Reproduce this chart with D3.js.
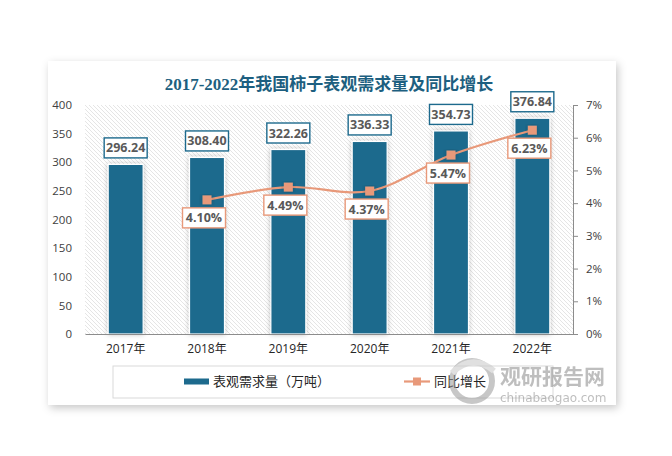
<!DOCTYPE html>
<html><head><meta charset="utf-8">
<script src="https://cdn.jsdelivr.net/npm/d3@7"></script>
<style>body{margin:0;background:#fff;}svg{display:block;}</style>
</head><body>
<svg id="c" width="672" height="456"></svg>
<script>
const years = ["2017年","2018年","2019年","2020年","2021年","2022年"];
const demand = [296.24, 308.40, 322.26, 336.33, 354.73, 376.84];
const growthYears = ["2018年","2019年","2020年","2021年","2022年"];
const growth = [4.10, 4.49, 4.37, 5.47, 6.23];
const leftTicks = [0,50,100,150,200,250,300,350,400];
const rightTicks = [0,1,2,3,4,5,6,7];
const title = "2017-2022年我国柿子表观需求量及同比增长";
const barName = "表观需求量（万吨）";
const lineName = "同比增长";

const svg = d3.select("#c");
const defs = svg.append("defs");
const sh = defs.append("filter").attr("id","cardShadow").attr("x","-10%").attr("y","-10%").attr("width","120%").attr("height","125%");
sh.append("feDropShadow").attr("dx",2).attr("dy",3).attr("stdDeviation",4).attr("flood-color","#000").attr("flood-opacity",0.22);
const bs = defs.append("filter").attr("id","barShadow").attr("x","-30%").attr("y","-10%").attr("width","160%").attr("height","120%");
bs.append("feDropShadow").attr("dx",0).attr("dy",0).attr("stdDeviation",2.5).attr("flood-color","#000").attr("flood-opacity",0.25);
const pat = defs.append("pattern").attr("id","hatch").attr("patternUnits","userSpaceOnUse").attr("width",4).attr("height",4);
pat.append("rect").attr("width",4).attr("height",4).attr("fill","#fff");
pat.append("path").attr("d","M-1,-1 L5,5 M3,-1 L5,1 M-1,3 L1,5").attr("stroke","#dedede").attr("stroke-width",0.8);

// card
svg.append("rect").attr("x",48).attr("y",61).attr("width",568).attr("height",344).attr("fill","#fff").attr("filter","url(#cardShadow)");

const x = d3.scaleBand().domain(years).range([85,573]).paddingInner(0.57).paddingOuter(0.285);
const yL = d3.scaleLinear().domain([0,400]).range([334,105]);
const yR = d3.scaleLinear().domain([0,7]).range([334,105]);

// plot background
svg.append("rect").attr("x",85).attr("y",105).attr("width",488).attr("height",229).attr("fill","url(#hatch)");

// title
svg.append("text").attr("x",329).attr("y",90).attr("text-anchor","middle")
  .attr("font-family","'Liberation Serif','Noto Sans CJK SC',serif").attr("font-weight","bold")
  .attr("font-size",17).attr("fill","#1d5f80").text(title);

// bars
svg.append("g").selectAll("rect").data(demand).join("rect")
  .attr("x",(d,i)=>x(years[i])).attr("y",d=>yL(d))
  .attr("width",x.bandwidth()).attr("height",d=>yL(0)-yL(d))
  .attr("fill","#1d6a8d").attr("stroke","#fff").attr("stroke-width",1.2)
  .attr("filter","url(#barShadow)");

// axes
const axisFont = "'Open Sans','DejaVu Sans',sans-serif";
const gL = svg.append("g").attr("transform","translate(85,0)")
  .call(d3.axisLeft(yL).tickValues(leftTicks).tickSize(0).tickPadding(13));
gL.select(".domain").remove();
gL.selectAll("text").attr("font-family",axisFont).attr("font-size",11.5).attr("fill","#404040");

const gR = svg.append("g").attr("transform","translate(573,0)")
  .call(d3.axisRight(yR).tickValues(rightTicks).tickSize(5).tickSizeOuter(0).tickPadding(8).tickFormat(d=>d+"%"));
gR.select(".domain").attr("stroke","#8c8c8c");
gR.selectAll("line").attr("stroke","#8c8c8c");
gR.selectAll("text").attr("font-family",axisFont).attr("font-size",11.5).attr("fill","#404040");

const gB = svg.append("g").attr("transform","translate(0,334)")
  .call(d3.axisBottom(x).tickSize(0).tickPadding(10));
gB.select(".domain").attr("stroke","#8c8c8c").attr("stroke-width",1.2);
gB.selectAll("text").attr("font-family",axisFont+",'Noto Sans CJK SC'").attr("font-size",12).attr("fill","#262626");

// line
const cx = d => x(d)+x.bandwidth()/2;
const lineData = growth.map((v,i)=>({k:growthYears[i],v}));
const line = d3.line().x(d=>cx(d.k)).y(d=>yR(d.v)).curve(d3.curveCatmullRom.alpha(0.5));
svg.append("path").datum(lineData).attr("d",line).attr("fill","none").attr("stroke","#e8997a").attr("stroke-width",2.2);
svg.append("g").selectAll("rect").data(lineData).join("rect")
  .attr("x",d=>cx(d.k)-4.5).attr("y",d=>yR(d.v)-4.5).attr("width",9).attr("height",9)
  .attr("fill","#e8997a").attr("filter","url(#barShadow)");

// value labels
const labFont = "'Open Sans','DejaVu Sans',sans-serif";
function box(g, cxv, cyv, txt, stroke){
  g.append("rect").attr("x",cxv-21.5).attr("y",cyv-10).attr("width",43).attr("height",20)
    .attr("fill","#fff").attr("stroke",stroke).attr("stroke-width",1.4);
  g.append("text").attr("x",cxv).attr("y",cyv+4.5).attr("text-anchor","middle")
    .attr("font-family",labFont).attr("font-weight","bold").attr("font-size",12.5).attr("fill","#595959").text(txt);
}
const lg = svg.append("g");
demand.forEach((d,i)=>box(lg, cx(years[i]), yL(d)-16.5, d.toFixed(2), "#1d6a8d"));
lineData.forEach(d=>box(lg, cx(d.k)-3, yR(d.v)+18, d.v.toFixed(2)+"%", "#e8997a"));

// legend
svg.append("rect").attr("x",113).attr("y",366).attr("width",440).attr("height",32).attr("fill","#fff").attr("stroke","#d9d9d9");
svg.append("rect").attr("x",184).attr("y",378.5).attr("width",25).attr("height",6).attr("fill","#1d6a8d");
svg.append("text").attr("x",213).attr("y",386).attr("font-family","'Noto Sans CJK SC',sans-serif").attr("font-size",13).attr("fill","#262626").text(barName);
svg.append("line").attr("x1",404).attr("x2",430).attr("y1",381.5).attr("y2",381.5).attr("stroke","#e8997a").attr("stroke-width",2.2);
svg.append("rect").attr("x",413).attr("y",377.5).attr("width",8).attr("height",8).attr("fill","#e8997a");
svg.append("text").attr("x",434).attr("y",386).attr("font-family","'Noto Sans CJK SC',sans-serif").attr("font-size",13).attr("fill","#262626").text(lineName);

// watermark
const wm = svg.append("g").attr("opacity",0.55);
wm.append("circle").attr("cx",472).attr("cy",381).attr("r",20).attr("fill","none").attr("stroke","#9a9a9a").attr("stroke-width",6);
wm.append("path").attr("d","M452,373 Q472,353 494,371").attr("fill","none").attr("stroke","#c8c8c8").attr("stroke-width",6);
wm.append("text").attr("x",500).attr("y",384).attr("font-family","'Noto Sans CJK SC',sans-serif").attr("font-weight","bold").attr("font-size",21).attr("fill","#8a8a8a").text("观研报告网");
wm.append("text").attr("x",500).attr("y",402).attr("font-family","'DejaVu Sans',sans-serif").attr("font-size",12).attr("fill","#8a8a8a").text("chinabaogao.com");
</script>
</body></html>
